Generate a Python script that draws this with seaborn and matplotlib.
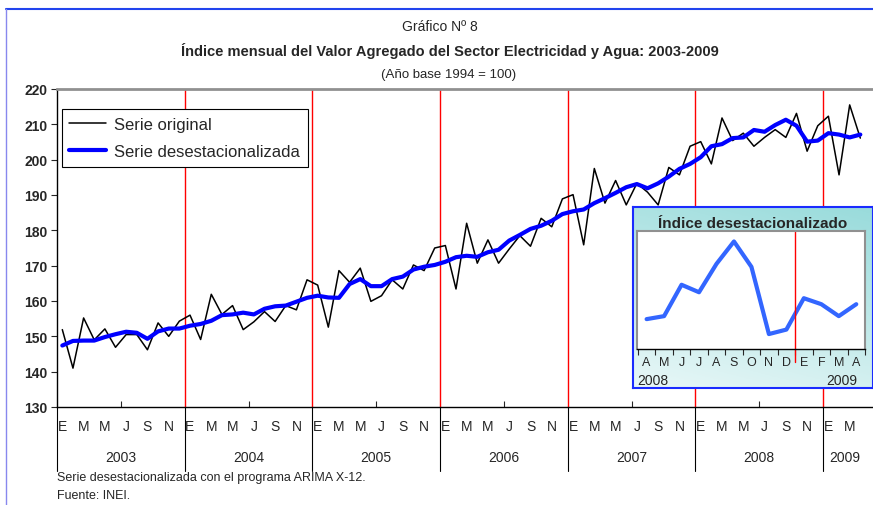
import numpy as np
import pandas as pd
import matplotlib
matplotlib.use('Agg')
import matplotlib.pyplot as plt
import matplotlib.transforms as mtransforms
from matplotlib import font_manager
from matplotlib.lines import Line2D
import seaborn as sns

## valores (INEI, base 1994=100), ene-2003 .. abr-2009
serie_original = [
    151.9, 141.0, 155.2, 149.0, 152.1, 146.9, 150.5, 150.5, 146.2, 153.8, 150.0, 154.3,
    156.0, 149.1, 161.9, 156.2, 158.7, 151.9, 154.1, 157.0, 154.2, 158.7, 157.5, 166.0,
    164.5, 152.6, 168.6, 165.3, 169.3, 159.9, 161.5, 166.0, 163.4, 170.2, 168.6, 175.0,
    175.7, 163.4, 182.0, 170.7, 177.3, 170.7, 174.7, 178.5, 175.5, 183.4, 181.0, 188.9,
    190.1, 175.9, 197.5, 187.7, 194.1, 187.2, 193.3, 190.8, 187.2, 197.8, 195.7, 203.8,
    205.1, 198.8, 211.8, 205.4, 207.5, 203.8, 206.3, 208.5, 206.3, 213.1, 202.4, 209.6,
    212.3, 195.7, 215.5, 206.1,
]
serie_desest = [
    147.4, 148.7, 148.8, 148.8, 149.8, 150.6, 151.3, 151.0, 149.3, 151.4, 152.2, 152.2,
    153.0, 153.5, 154.4, 156.0, 156.2, 156.7, 156.2, 157.8, 158.5, 158.7, 159.8, 160.9,
    161.5, 161.0, 160.9, 164.8, 166.2, 164.2, 164.2, 166.2, 166.9, 168.9, 169.7, 170.2,
    171.1, 172.4, 172.8, 172.5, 173.8, 174.5, 177.1, 178.7, 180.4, 181.3, 182.7, 184.6,
    185.4, 185.9, 187.7, 189.1, 190.6, 192.2, 193.1, 191.9, 193.3, 195.2, 197.4, 198.8,
    200.7, 203.8, 204.4, 206.1, 206.3, 208.4, 207.9, 209.8, 211.3, 209.6, 205.1, 205.4,
    207.5, 207.1, 206.3, 207.1,
]
meses = ['E', 'F', 'M', 'A', 'M', 'J', 'J', 'A', 'S', 'O', 'N', 'D']
anios = ['2003', '2004', '2005', '2006', '2007', '2008', '2009']
meses_recuadro = ['A', 'M', 'J', 'J', 'A', 'S', 'O', 'N', 'D', 'E', 'F', 'M', 'A']
inicio_recuadro = 63  # abr-2008

n = len(serie_original)
df = pd.DataFrame({'t': np.arange(n), 'original': serie_original, 'desest': serie_desest})
df_rec = pd.DataFrame({'t': np.arange(len(meses_recuadro)), 'desest': serie_desest[inicio_recuadro:]})

sns.set_style('white')
names = {f.name for f in font_manager.fontManager.ttflist}
narrow = 'Liberation Sans Narrow' if 'Liberation Sans Narrow' in names else 'Liberation Sans'
plt.rcParams['font.family'] = ['Liberation Sans', 'DejaVu Sans']

W, H = 873, 506
fig = plt.figure(figsize=(W / 100, H / 100), dpi=100)
def fx(px): return px / W
def fy(py): return 1 - py / H

## grafico principal (10.64 px por mes, el area sigue hasta el borde derecho)
px_mes = 10.64
ax = fig.add_axes([fx(57), fy(408), fx(873) - fx(57), fy(90) - fy(408)])
sns.lineplot(ax=ax, data=df, x='t', y='original', color='black', lw=1.1, label='Serie original', zorder=3)
sns.lineplot(ax=ax, data=df, x='t', y='desest', color='#0000ff', lw=3, label='Serie desestacionalizada', zorder=4)
ax.set_xlim(-0.5, -0.5 + (873 - 57) / px_mes)
ax.set_ylim(130, 220)
ax.set_xlabel('')
ax.set_ylabel('')
for k in range(1, len(anios)):
    ax.axvline(12 * k - 0.5, color='red', lw=1, zorder=1)

ax.set_yticks(range(130, 221, 10))
ax.tick_params(axis='y', left=True, direction='out', length=4, width=0.8, pad=3, labelsize=10)
for lbl in ax.get_yticklabels():
    lbl.set_fontweight('bold')

ax.set_xticks(range(0, n, 2))
ax.set_xticklabels([meses[i % 12] for i in range(0, n, 2)], family=narrow, fontsize=10)
ax.tick_params(axis='x', which='major', length=0, pad=9)
ax.set_xticks([12 * k + 5.5 for k in range(len(anios) - 1)], minor=True)
ax.tick_params(axis='x', which='minor', bottom=True, direction='in', length=4, width=0.8)

ax.spines['top'].set_color('#909090')
ax.spines['top'].set_linewidth(2)
ax.spines['right'].set_visible(False)
for s in ['left', 'bottom']:
    ax.spines[s].set_color('black')
    ax.spines[s].set_linewidth(1)

trans = mtransforms.blended_transform_factory(ax.transData, ax.transAxes)
for k, a in enumerate(anios):
    x0 = 12 * k - 0.5
    x1 = min(12 * k + 11.5, n - 0.5)
    ax.text((x0 + x1) / 2, -0.157, a, transform=trans, ha='center', va='center', fontsize=10, family=narrow)
    ax.plot([x0, x0], [0, -0.2], transform=trans, color='black', lw=0.8, clip_on=False)

leg = ax.legend(loc='upper left', bbox_to_anchor=(0.006, 0.937), borderaxespad=0, fontsize=12,
                frameon=True, fancybox=False, edgecolor='black', framealpha=1,
                handlelength=2.2, handletextpad=0.5, labelspacing=0.75, borderpad=0.45)
leg.get_frame().set_linewidth(0.8)

## recuadro
box = fig.add_axes([fx(633), fy(389), fx(873) - fx(633), fy(208) - fy(389)])
yy, xx = np.mgrid[0:1:100j, 0:1:100j]
tt = np.clip(0.75 * yy + 0.25 * xx, 0, 1)[..., None]
c_top = np.array([0.60, 0.86, 0.86])
c_bot = np.array([0.91, 0.97, 0.97])
box.imshow(c_bot + (c_top - c_bot) * tt, extent=[0, 1, 0, 1], aspect='auto', origin='lower')
box.set_xlim(0, 1)
box.set_ylim(0, 1)
box.set_xticks([])
box.set_yticks([])
for s in box.spines.values():
    s.set_color('#1a2bff')
    s.set_linewidth(1.5)
box.text(0.5, (389 - 224) / 181, 'Índice desestacionalizado', transform=box.transAxes,
         ha='center', va='center', fontweight='bold', fontsize=11)

inner = fig.add_axes([fx(637), fy(350), fx(865) - fx(637), fy(232) - fy(350)])
sns.lineplot(ax=inner, data=df_rec, x='t', y='desest', color='#3366ff', lw=3)
inner.set_facecolor('white')
inner.set_xlim(-0.55, 12.5)
inner.set_ylim(204.1, 212.0)
inner.set_xlabel('')
inner.set_ylabel('')
inner.set_yticks([])
inner.set_xticks(range(len(meses_recuadro)))
inner.set_xticklabels(meses_recuadro, fontsize=9)
inner.set_xticks(np.arange(-0.5, 13, 1), minor=True)
inner.tick_params(axis='x', which='major', length=0, pad=5)
inner.tick_params(axis='x', which='minor', bottom=True, direction='out', length=4, width=0.8)
for s in ['top', 'left', 'right']:
    inner.spines[s].set_color('#909090')
    inner.spines[s].set_linewidth(1.5)
inner.spines['bottom'].set_color('black')
inner.spines['bottom'].set_linewidth(1)
tr_in = mtransforms.blended_transform_factory(inner.transData, inner.transAxes)
inner.plot([8.5, 8.5], [1, -0.11], transform=tr_in, color='red', lw=1, clip_on=False)
inner.text(0, -0.265, '2008', transform=inner.transAxes, ha='left', va='center', fontsize=10)
inner.text(0.965, -0.265, '2009', transform=inner.transAxes, ha='right', va='center', fontsize=10)

## titulos y notas
fig.text(fx(440), fy(27), 'Gráfico Nº 8', ha='center', va='center', fontsize=10, family=narrow)
fig.text(fx(450), fy(51), 'Índice mensual del Valor Agregado del Sector Electricidad y Agua: 2003-2009',
         ha='center', va='center', fontsize=10.5, fontweight='bold', family=narrow)
fig.text(fx(449), fy(75), '(Año base 1994 = 100)', ha='center', va='center', fontsize=9.5, family=narrow)
fig.text(fx(57), fy(478), 'Serie desestacionalizada con el programa ARIMA X-12.', ha='left', va='center',
         fontsize=9, family=narrow)
fig.text(fx(57), fy(496), 'Fuente: INEI.', ha='left', va='center', fontsize=9, family=narrow)

fig.add_artist(Line2D([fx(6), 1], [fy(10), fy(10)], color='#2244ee', lw=1.5))
fig.add_artist(Line2D([fx(6), fx(6)], [0, fy(10)], color='#8888ee', lw=1))

fig.savefig('out.png', dpi=100)
